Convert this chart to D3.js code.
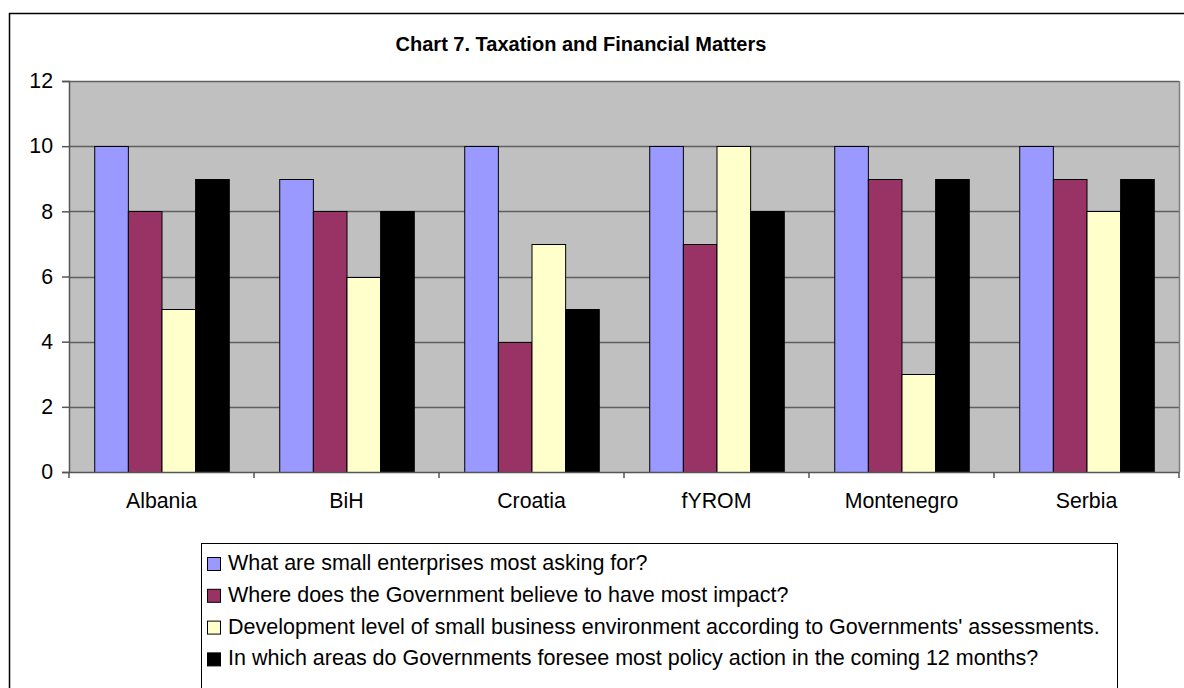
<!DOCTYPE html>
<html>
<head>
<meta charset="utf-8">
<script src="https://cdn.jsdelivr.net/npm/d3@7"></script>
<style>
  html, body { margin: 0; padding: 0; background: #fff; }
  svg { display: block; font-family: "Liberation Sans", Arial, sans-serif; }
</style>
</head>
<body>
<svg id="chart" width="1184" height="688"></svg>
<script>
// Countries along the x axis
const countries = ["Albania", "BiH", "Croatia", "fYROM", "Montenegro", "Serbia"];

// Series names (legend order)
const seriesNames = [
  "What are small enterprises most asking for?",
  "Where does the Government believe to have most impact?",
  "Development level of small business environment according to Governments' assessments.",
  "In which areas do Governments foresee most policy action in the coming 12 months?"
];

// Series values, one per country
const askingFor    = [10, 9, 10, 10, 10, 10];
const govImpact    = [8, 8, 4, 7, 9, 9];
const devLevel     = [5, 6, 7, 10, 3, 8];
const policyAction = [9, 8, 5, 8, 9, 9];
const seriesValues = [askingFor, govImpact, devLevel, policyAction];

const seriesColors = ["#9999FF", "#993366", "#FFFFCC", "#000000"];
const yTicks = [0, 2, 4, 6, 8, 10, 12];

const svg = d3.select("#chart");
const plot = { left: 69, top: 81, right: 1179, bottom: 472 };
const axisFont = 21.3;

// Outer chart frame
svg.append("rect")
  .attr("x", 9.5).attr("y", 13.5)
  .attr("width", 1250).attr("height", 750)
  .attr("fill", "#fff").attr("stroke", "#000").attr("stroke-width", 1.5);

// Title
svg.append("text")
  .attr("x", 581).attr("y", 50.5)
  .attr("text-anchor", "middle")
  .attr("font-size", 20).attr("font-weight", "bold")
  .text("Chart 7. Taxation and Financial Matters");

const x0 = d3.scaleBand().domain(countries).range([plot.left, plot.right]);
// four bars per group, with a gap of 1.5 bar widths between groups
const gapShare = 0.75 / 5.5;
const x1 = d3.scaleBand().domain(d3.range(seriesNames.length))
  .range([x0.bandwidth() * gapShare, x0.bandwidth() * (1 - gapShare)]);

const y = d3.scaleLinear().domain([0, 12]).range([plot.bottom, plot.top]);

// Plot background
svg.append("rect")
  .attr("x", plot.left).attr("y", plot.top)
  .attr("width", plot.right - plot.left).attr("height", plot.bottom - plot.top)
  .attr("fill", "#C0C0C0");

// Gridlines
svg.append("g").selectAll("line").data(yTicks.filter(t => t > 0)).join("line")
  .attr("x1", plot.left).attr("x2", plot.right)
  .attr("y1", d => Math.round(y(d)) + 0.5).attr("y2", d => Math.round(y(d)) + 0.5)
  .attr("stroke", "#5f5f5f").attr("stroke-width", 1.5);

// Right border of plot area
svg.append("line")
  .attr("x1", plot.right + 0.5).attr("x2", plot.right + 0.5)
  .attr("y1", plot.top).attr("y2", plot.bottom)
  .attr("stroke", "#7f7f7f").attr("stroke-width", 1.5);

// Bars
const groups = svg.append("g").selectAll("g").data(countries).join("g")
  .attr("transform", d => `translate(${x0(d)},0)`);
groups.selectAll("rect")
  .data((c, i) => seriesValues.map((vals, s) => ({ s, v: vals[i] })))
  .join("rect")
  .attr("x", d => x1(d.s) + 0.5)
  .attr("width", x1.bandwidth())
  .attr("y", d => Math.round(y(d.v)) + 0.5)
  .attr("height", d => Math.round(y(0)) - Math.round(y(d.v)))
  .attr("fill", d => seriesColors[d.s])
  .attr("stroke", "#000").attr("stroke-width", 1);

// Y axis
const yAxis = svg.append("g")
  .attr("transform", `translate(${plot.left},0)`)
  .call(d3.axisLeft(y).tickValues(yTicks).tickFormat(d3.format("d")).tickSize(7).tickPadding(9));
yAxis.select(".domain").attr("stroke", "#555").attr("stroke-width", 1.5);
yAxis.selectAll(".tick line").attr("stroke", "#555").attr("stroke-width", 1.5);
yAxis.selectAll("text").attr("font-size", axisFont).attr("fill", "#000")
  .attr("font-family", "Liberation Sans, Arial, sans-serif");

// X axis with ticks at category boundaries
const xAxis = svg.append("g")
  .attr("transform", `translate(0,${plot.bottom})`)
  .call(d3.axisBottom(x0).tickSize(0).tickPadding(21));
xAxis.select(".domain").attr("stroke", "#555").attr("stroke-width", 1.5);
xAxis.selectAll("text").attr("font-size", axisFont).attr("fill", "#000")
  .attr("font-family", "Liberation Sans, Arial, sans-serif");
xAxis.selectAll("line.boundary")
  .data(countries.map(c => x0(c)).concat([plot.right]))
  .join("line").attr("class", "boundary")
  .attr("x1", d => d).attr("x2", d => d)
  .attr("y1", 0).attr("y2", 6)
  .attr("stroke", "#555").attr("stroke-width", 1.5);

// Legend
const legend = svg.append("g");
legend.append("rect")
  .attr("x", 201.5).attr("y", 543.5)
  .attr("width", 916).attr("height", 200)
  .attr("fill", "#fff").attr("stroke", "#000").attr("stroke-width", 1);
const rows = legend.selectAll("g.item").data(seriesNames).join("g")
  .attr("class", "item")
  .attr("transform", (d, i) => `translate(0,${570 + i * 31.8})`);
rows.append("rect")
  .attr("x", 207.5).attr("y", -12.5)
  .attr("width", 13).attr("height", 13)
  .attr("fill", (d, i) => seriesColors[i])
  .attr("stroke", "#000").attr("stroke-width", 1);
rows.append("text")
  .attr("x", 228).attr("y", 0)
  .attr("font-size", 21.5)
  .text(d => d);
</script>
</body>
</html>
